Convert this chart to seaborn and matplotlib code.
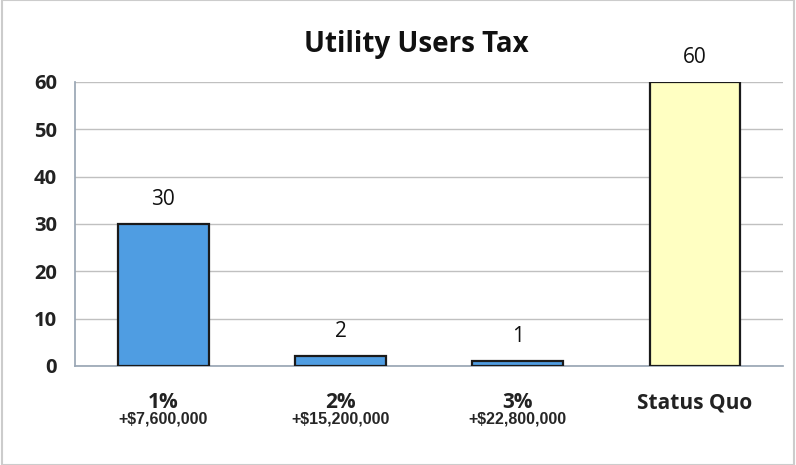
import matplotlib
matplotlib.use("Agg")
import matplotlib.pyplot as plt
import matplotlib.transforms as mtransforms
import seaborn as sns
import pandas as pd

# chart data
options = ["1%", "2%", "3%", "Status Quo"]
revenue = ["+$7,600,000", "+$15,200,000", "+$22,800,000", ""]
votes = [30, 2, 1, 60]
bar_colors = ["#4f9de2", "#4f9de2", "#4f9de2", "#ffffc2"]

df = pd.DataFrame({"option": options, "votes": votes})

sns.set_theme(style="white")
plt.rcParams["font.family"] = ["Open Sans", "DejaVu Sans"]

fig = plt.figure(figsize=(7.96, 4.65), dpi=100)
ax = fig.add_axes([0.094, 0.213, 0.89, 0.611])

sns.barplot(data=df, x="option", y="votes", hue="option", palette=bar_colors,
            legend=False, width=0.51, edgecolor="#1a1a1a", linewidth=1.6,
            saturation=1, ax=ax, zorder=3)

ax.set_ylim(0, 60)
ax.set_xlim(-0.5, 3.5)
ax.set_yticks(range(0, 61, 10))
ax.set_yticklabels([str(v) for v in range(0, 61, 10)], fontsize=14.5,
                   fontweight="bold", color="#222222")
ax.tick_params(axis="y", length=5, color="#9aa7b5", pad=8)
ax.grid(axis="y", color="#c0c0c0", linewidth=1, zorder=0)

# x category labels
ax.set_xticks(range(len(options)))
ax.set_xticklabels(options, fontsize=15, fontweight="bold", color="#222222")
ax.tick_params(axis="x", length=0, pad=19)
ax.set_xlabel("")
ax.set_ylabel("")

# minor ticks between categories, Excel style
ax.set_xticks([0.5, 1.5, 2.5, 3.5], minor=True)
ax.tick_params(axis="x", which="minor", length=6, color="#9aa7b5", direction="out")

# revenue sub-labels under the categories
trans = mtransforms.blended_transform_factory(ax.transData, ax.transAxes)
for i, txt in enumerate(revenue):
    ax.text(i, -0.187, txt, transform=trans, ha="center", va="center",
            fontsize=11.5, fontweight="bold",
            family=["Liberation Sans Narrow", "Liberation Sans"])

# value labels
for i, v in enumerate(votes):
    ax.text(i, v + 3, str(v), ha="center", va="bottom", fontsize=15,
            color="#111111")

for side in ["top", "right"]:
    ax.spines[side].set_visible(False)
ax.spines["left"].set_color("#9aa7b5")
ax.spines["bottom"].set_color("#9aa7b5")

fig.text(0.523, 0.905, "Utility Users Tax", ha="center", va="center",
         fontsize=20, fontweight="bold", color="#111111")

# light frame of the chart area
fig.patches.append(plt.Rectangle((0.003, 0.0), 0.994, 1.0, transform=fig.transFigure,
                                 fill=False, edgecolor="#cccccc", linewidth=1.5))

fig.savefig("out.png", dpi=100)
